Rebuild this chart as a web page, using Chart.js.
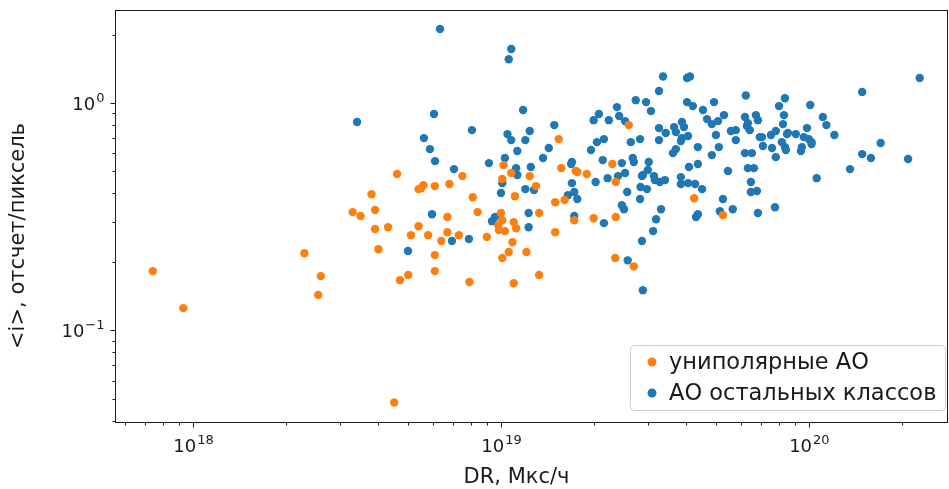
<!DOCTYPE html>
<html>
<head>
<meta charset="utf-8">
<script src="https://cdn.jsdelivr.net/npm/chart.js@4.4.1/dist/chart.umd.min.js"></script>
<style>
  html, body { margin: 0; padding: 0; background: #fff; }
</style>
</head>
<body>
<canvas id="chart" width="949" height="489"></canvas>
<script>
const seriesNames = ['униполярные АО', 'АО остальных классов'];
const seriesColors = ['#ff7f0e', '#1f77b4'];
const xTitle = 'DR, Мкс/ч';
const yTitle = '<i>, отсчет/пиксель';

// униполярные АО
const uniX = [7.4e17, 9.3e17, 2.3e18, 2.6e18, 2.55e18, 4.5e18, 4.6e18, 7.5e18, 5.4e18, 5.5e18,
  5.6e18, 6.1e18, 6.8e18, 3.8e18, 8.1e18, 3.3e18, 3.5e18, 3.9e18, 8.4e18, 6.7e18,
  3.9e18, 4.3e18, 5.4e18, 5.1e18, 5.8e18, 6.7e18, 7.3e18, 6.4e18, 9.0e18, 4.0e18,
  6.1e18, 5.0e18, 4.7e18, 6.1e18, 7.9e18, 2.6e19, 1.54e19, 1.02e19, 1.57e19, 1.75e19,
  2.3e19, 1.08e19, 1.01e19, 1.24e19, 1.3e19, 1.11e19, 1.77e19, 1.9e19, 1.61e19, 1.5e19,
  2.36e19, 1.0e19, 1.01e19, 9.8e18, 9.85e18, 1.03e19, 1.1e19, 1.12e19, 1.33e19, 1.73e19,
  2.0e19, 2.36e19, 1.5e19, 1.09e19, 1.06e19, 1.01e19, 1.21e19, 1.1e19, 1.33e19, 2.35e19,
  2.7e19, 4.24e19, 5.26e19];
const uniY = [0.182, 0.125, 0.218, 0.173, 0.143, 0.048, 0.487, 0.477, 0.418, 0.422,
  0.435, 0.431, 0.440, 0.397, 0.385, 0.331, 0.318, 0.338, 0.331, 0.315,
  0.279, 0.284, 0.287, 0.262, 0.262, 0.270, 0.262, 0.247, 0.257, 0.227,
  0.214, 0.175, 0.166, 0.182, 0.163, 0.800, 0.694, 0.533, 0.517, 0.502,
  0.539, 0.492, 0.463, 0.477, 0.431, 0.389, 0.497, 0.487, 0.374, 0.366,
  0.449, 0.328, 0.305, 0.290, 0.276, 0.273, 0.299, 0.281, 0.328, 0.305,
  0.311, 0.315, 0.270, 0.244, 0.221, 0.208, 0.221, 0.161, 0.175, 0.208,
  0.191, 0.381, 0.321];

// АО остальных классов
const otherX = [6.34e18, 6.06e18, 3.41e18, 8.05e18, 5.62e18, 5.88e18, 6.11e18, 7.04e18, 9.14e18, 5.97e18,
  9.35e18, 9.56e18, 6.93e18, 7.87e18, 4.99e18,
  1.08e19, 1.06e19, 1.18e19, 2.74e19, 2.96e19, 2.38e19, 2.08e19, 2.0e19, 2.24e19, 2.42e19,
  2.53e19, 1.49e19, 1.05e19, 1.08e19, 1.24e19, 1.2e19, 1.13e19, 1.43e19, 1.37e19, 2.05e19,
  2.16e19, 2.64e19, 2.83e19, 1.96e19, 1.03e19, 1.12e19, 1.25e19, 1.7e19, 1.69e19, 2.14e19,
  2.47e19, 2.68e19, 2.7e19,
  1.13e19, 1.01e19, 1.2e19, 1.28e19, 1.0e19, 2.03e19, 1.7e19, 1.73e19, 1.65e19, 1.77e19,
  2.22e19, 2.4e19, 2.53e19, 2.87e19, 2.84e19, 2.57e19, 2.83e19, 2.47e19, 2.51e19, 1.23e19,
  1.23e19, 1.73e19, 2.16e19, 2.87e19, 2.58e19, 2.89e19,
  3.36e19, 4.02e19, 4.11e19, 3.26e19, 3.07e19, 4.02e19, 4.2e19, 4.92e19, 6.24e19, 8.36e19,
  8.0e19, 4.53e19, 5.3e19, 4.67e19, 4.84e19, 5.07e19, 6.2e19, 6.34e19, 6.73e19, 6.83e19,
  6.29e19, 6.43e19, 8.3e19, 8.24e19,
  3.26e19, 3.43e19, 3.65e19, 3.7e19, 3.87e19, 3.93e19, 3.26e19, 3.87e19, 4.05e19, 3.84e19,
  4.99e19, 5.58e19, 5.79e19, 5.79e19, 6.93e19, 7.04e19, 7.53e19, 7.81e19, 8.49e19, 8.17e19,
  8.36e19, 8.42e19, 7.09e19, 7.59e19, 7.81e19,
  3.62e19, 3.7e19, 4.36e19, 5.1e19, 4.84e19, 6.2e19, 6.53e19, 3.02e19, 4.08e19, 4.36e19,
  5.46e19, 6.34e19, 6.63e19,
  2.89e19, 3.0e19, 3.14e19, 3.16e19, 3.28e19, 3.41e19, 3.84e19, 3.84e19, 4.05e19, 4.27e19,
  4.5e19, 2.98e19, 6.48e19, 6.48e19, 6.78e19, 5.26e19, 3.31e19, 3.19e19, 4.3e19, 4.36e19,
  5.14e19, 5.66e19, 6.83e19, 7.76e19, 3.12e19,
  2.29e20, 1.49e20, 1.01e20, 1.11e20, 1.14e20, 9.86e19, 8.55e19, 9.07e19, 9.63e19, 1.0e20,
  1.02e20, 1.02e20, 1.21e20, 9.49e19, 9.42e19, 1.71e20, 1.49e20, 1.59e20, 2.1e20, 1.36e20,
  1.06e20];
const otherY = [2.12, 0.895, 0.825, 0.760, 0.701, 0.627, 0.555, 0.512, 0.544, 0.324,
  0.302, 0.315, 0.247, 0.252, 0.223,
  1.73, 1.56, 0.932, 1.03, 1.01, 0.960, 0.895, 0.841, 0.841, 0.877,
  0.833, 0.800, 0.730, 0.687, 0.753, 0.687, 0.615, 0.634, 0.573, 0.673,
  0.694, 0.673, 0.694, 0.621, 0.573, 0.517, 0.523, 0.550, 0.539, 0.561,
  0.544, 0.573, 0.550,
  0.482, 0.444, 0.418, 0.414, 0.402, 0.449, 0.444, 0.406, 0.393, 0.378,
  0.467, 0.477, 0.492, 0.477, 0.427, 0.406, 0.378, 0.355, 0.341, 0.328,
  0.284, 0.318, 0.296, 0.247, 0.203, 0.150,
  1.31, 1.29, 1.31, 1.13, 0.922, 1.01, 0.970, 1.01, 1.08, 1.05,
  0.970, 0.932, 0.885, 0.850, 0.808, 0.833, 0.868, 0.816, 0.885, 0.841,
  0.792, 0.760, 0.885, 0.808,
  0.776, 0.738, 0.784, 0.745, 0.825, 0.784, 0.687, 0.701, 0.716, 0.680,
  0.723, 0.753, 0.760, 0.687, 0.708, 0.708, 0.723, 0.753, 0.730, 0.673,
  0.640, 0.621, 0.647, 0.634, 0.578,
  0.602, 0.627, 0.640, 0.640, 0.590, 0.602, 0.602, 0.550, 0.523, 0.539,
  0.502, 0.517, 0.517,
  0.482, 0.507, 0.477, 0.458, 0.449, 0.458, 0.472, 0.440, 0.444, 0.440,
  0.418, 0.418, 0.449, 0.406, 0.410, 0.378, 0.341, 0.308, 0.315, 0.324,
  0.334, 0.341, 0.328, 0.348, 0.273,
  1.29, 1.12, 0.980, 0.868, 0.800, 0.776, 0.738, 0.730, 0.708, 0.694,
  0.660, 0.673, 0.723, 0.640, 0.615, 0.667, 0.596, 0.573, 0.567, 0.512,
  0.467];

// major ticks: value and the exponent shown as 10^exp
const xMajor = [1e18, 1e19, 1e20];
const xMajorExp = ['18', '19', '20'];
const yMajor = [0.1, 1];
const yMajorExp = ['−1', '0'];
const xMin = 5.58e17, xMax = 2.83e20;
const yMin = 0.0394, yMax = 2.57;

const FONT = 'DejaVu Sans';
const INK = '#1a1a1a';

function toPoints(xs, ys) {
  return xs.map((x, i) => ({ x: x, y: ys[i] }));
}

// all 1..9 x 10^k values inside [min, max]
function logTicks(min, max) {
  const out = [];
  for (let e = Math.floor(Math.log10(min)); e <= Math.ceil(Math.log10(max)); e++) {
    for (let m = 1; m <= 9; m++) {
      const v = m * Math.pow(10, e);
      if (v >= min && v <= max) out.push(v);
    }
  }
  return out;
}

function majorIndex(v, majors) {
  return majors.findIndex(m => Math.abs(Math.log10(v) - Math.log10(m)) < 1e-6);
}

// "10" with a raised exponent, like matplotlib's mathtext
function powerLabel(ctx, exp, x, yBase, align) {
  ctx.font = '18px "' + FONT + '"';
  const wb = ctx.measureText('10').width;
  ctx.font = '13px "' + FONT + '"';
  const we = ctx.measureText(exp).width;
  const left = align === 'center' ? x - (wb + we) / 2 : x - (wb + we + 1);
  ctx.textAlign = 'left';
  ctx.textBaseline = 'alphabetic';
  ctx.font = '18px "' + FONT + '"';
  ctx.fillText('10', left, yBase);
  ctx.font = '13px "' + FONT + '"';
  ctx.fillText(exp, left + wb + 1, yBase - 8);
}

// box around the plot, tick marks, decade labels and axis titles
const framePlugin = {
  id: 'frame',
  afterDraw(chart) {
    const ctx = chart.ctx;
    const a = chart.chartArea;
    const L = Math.round(a.left) + 0.5, B = Math.round(a.bottom) + 0.5;
    ctx.save();
    ctx.strokeStyle = INK;
    ctx.lineWidth = 1;
    ctx.strokeRect(L, Math.round(a.top) + 0.5,
      Math.round(a.right - a.left) - 1, Math.round(a.bottom - a.top));
    const xs = chart.scales.x, ys = chart.scales.y;
    ctx.beginPath();
    xs.ticks.forEach(t => {
      const px = Math.round(xs.getPixelForValue(t.value)) + 0.5;
      const len = majorIndex(t.value, xMajor) >= 0 ? 5 : 3;
      ctx.moveTo(px, B);
      ctx.lineTo(px, B + len);
    });
    ys.ticks.forEach(t => {
      const py = Math.round(ys.getPixelForValue(t.value)) + 0.5;
      const len = majorIndex(t.value, yMajor) >= 0 ? 5 : 3;
      ctx.moveTo(L, py);
      ctx.lineTo(L - len, py);
    });
    ctx.stroke();
    ctx.fillStyle = INK;
    xMajor.forEach((v, i) => {
      powerLabel(ctx, xMajorExp[i], xs.getPixelForValue(v), B + 29, 'center');
    });
    yMajor.forEach((v, i) => {
      powerLabel(ctx, yMajorExp[i], L - 11, ys.getPixelForValue(v) + 7, 'right');
    });
    // axis titles
    ctx.font = '21px "' + FONT + '"';
    ctx.textAlign = 'center';
    ctx.textBaseline = 'middle';
    ctx.fillText(xTitle, (a.left + a.right) / 2 - 15, 478);
    ctx.translate(19, (a.top + a.bottom) / 2 + 20);
    ctx.rotate(-Math.PI / 2);
    ctx.fillText(yTitle, 0, 0);
    ctx.restore();
  }
};

// legend box in the lower right corner of the plot
const legendPlugin = {
  id: 'cornerLegend',
  afterDraw(chart) {
    const ctx = chart.ctx;
    const a = chart.chartArea;
    const w = 315, h = 65;
    const x0 = a.right - w - 3, y0 = a.bottom - h - 12;
    ctx.save();
    ctx.fillStyle = 'rgba(255,255,255,0.8)';
    ctx.strokeStyle = '#cccccc';
    ctx.lineWidth = 1;
    ctx.beginPath();
    ctx.roundRect(x0 + 0.5, y0 + 0.5, w, h, 4);
    ctx.fill();
    ctx.stroke();
    ctx.font = '22.5px "' + FONT + '"';
    ctx.textBaseline = 'middle';
    ctx.textAlign = 'left';
    chart.data.datasets.forEach((ds, i) => {
      const cy = y0 + 17 + i * 31;
      ctx.fillStyle = ds.backgroundColor;
      ctx.beginPath();
      ctx.arc(x0 + 22, cy, 4.5, 0, Math.PI * 2);
      ctx.fill();
      ctx.fillStyle = INK;
      ctx.fillText(ds.label, x0 + 39, cy + 1);
    });
    ctx.restore();
  }
};

const ctx = document.getElementById('chart').getContext('2d');
new Chart(ctx, {
  type: 'scatter',
  data: {
    datasets: [
      {
        label: seriesNames[0],
        data: toPoints(uniX, uniY),
        backgroundColor: seriesColors[0],
        borderWidth: 0,
        pointRadius: 4.2,
        pointHoverRadius: 4.2
      },
      {
        label: seriesNames[1],
        data: toPoints(otherX, otherY),
        backgroundColor: seriesColors[1],
        borderWidth: 0,
        pointRadius: 4.2,
        pointHoverRadius: 4.2
      }
    ]
  },
  options: {
    responsive: false,
    animation: false,
    layout: { autoPadding: false, padding: { top: 10, right: 1, left: 0, bottom: 0 } },
    plugins: {
      legend: { display: false },
      tooltip: { enabled: false }
    },
    scales: {
      x: {
        type: 'logarithmic',
        min: xMin,
        max: xMax,
        grid: { display: false },
        border: { display: false },
        afterBuildTicks: s => { s.ticks = logTicks(xMin, xMax).map(v => ({ value: v })); },
        afterFit: s => { s.height = 67; s.paddingLeft = 0; s.paddingRight = 0; },
        ticks: { display: false }
      },
      y: {
        type: 'logarithmic',
        min: yMin,
        max: yMax,
        grid: { display: false },
        border: { display: false },
        afterBuildTicks: s => { s.ticks = logTicks(yMin, yMax).map(v => ({ value: v })); },
        afterFit: s => { s.width = 115; s.paddingTop = 0; s.paddingBottom = 0; },
        ticks: { display: false }
      }
    }
  },
  plugins: [framePlugin, legendPlugin]
});
</script>
</body>
</html>
